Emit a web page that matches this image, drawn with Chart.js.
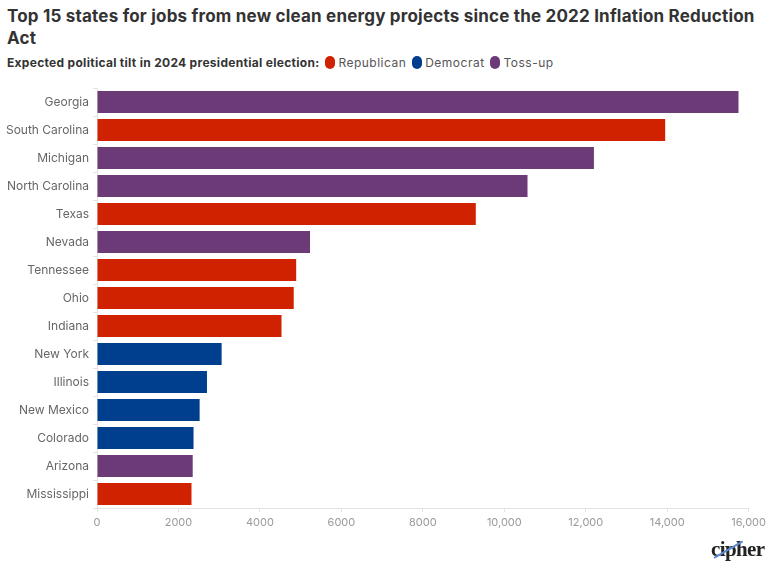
<!DOCTYPE html>
<html>
<head>
<meta charset="utf-8">
<script src="https://cdn.jsdelivr.net/npm/chart.js@4"></script>
<style>
  html, body { margin: 0; padding: 0; background: #fff; }
  #wrap { position: relative; width: 770px; height: 564px; overflow: hidden; font-family: Inter, "Open Sans", sans-serif; }
  #title { position: absolute; left: 7px; top: 5px; width: 763px; font-size: 17px; font-weight: 700; color: #333; line-height: 22px; white-space: nowrap; letter-spacing: 0.2px; }
  #legend { position: absolute; left: 7px; top: 55px; font-size: 12px; color: #555; white-space: nowrap; line-height: 16px; letter-spacing: 0.5px; }
  #legend b { color: #333; font-weight: 700; letter-spacing: 0.3px; }
  .sw { display: inline-block; width: 10px; height: 13px; border-radius: 5px; vertical-align: -2px; margin: 0 3px 0 2px; }
  #cv { position: absolute; left: 0; top: 0; }
  #logo { position: absolute; left: 711px; top: 537px; width: 58px; height: 27px; }
  #logo span { font-family: "Liberation Serif", "DejaVu Serif", serif; font-weight: 700; font-size: 21px; color: #222; letter-spacing: -0.6px; position: absolute; left: 0; top: 0; }
  #logo i { position: absolute; left: 3px; top: 20px; width: 33px; height: 1.5px; background: #5b8ad0; transform: rotate(-30deg); transform-origin: left center; }
</style>
</head>
<body>
<div id="wrap">
  <div id="title">Top 15 states for jobs from new clean energy projects since the 2022 Inflation Reduction<br>Act</div>
  <div id="legend"><b>Expected political tilt in 2024 presidential election:</b> <span class="sw" style="background:#d02200"></span>Republican <span class="sw" style="background:#003e8e"></span>Democrat <span class="sw" style="background:#6d3a78"></span>Toss-up</div>
  <canvas id="cv" width="770" height="564"></canvas>
  <div id="logo"><span>cipher</span><i></i></div>
</div>
<script>
const states = ["Georgia","South Carolina","Michigan","North Carolina","Texas","Nevada","Tennessee","Ohio","Indiana","New York","Illinois","New Mexico","Colorado","Arizona","Mississippi"];
const jobs = [15750, 13950, 12200, 10570, 9300, 5230, 4890, 4830, 4530, 3060, 2700, 2520, 2370, 2350, 2320];
const tilt = ["Toss-up","Republican","Toss-up","Toss-up","Republican","Toss-up","Republican","Republican","Republican","Democrat","Democrat","Democrat","Democrat","Toss-up","Republican"];
const tiltColors = { "Republican": "#d02200", "Democrat": "#003e8e", "Toss-up": "#6d3a78" };
const xTicks = [0, 2000, 4000, 6000, 8000, 10000, 12000, 14000, 16000];

new Chart(document.getElementById("cv"), {
  type: "bar",
  data: {
    labels: states,
    datasets: [{
      data: jobs,
      backgroundColor: tilt.map(t => tiltColors[t]),
      borderWidth: 0,
      categoryPercentage: 1,
      barPercentage: 0.786
    }]
  },
  options: {
    indexAxis: "y",
    responsive: false,
    animation: false,
    events: [],
    layout: { padding: { top: 88, right: 19, left: 0, bottom: 0 } },
    plugins: { legend: { display: false }, title: { display: false }, tooltip: { enabled: false } },
    scales: {
      x: {
        min: 0, max: 16000,
        afterBuildTicks: s => { s.ticks = xTicks.map(v => ({ value: v })); },
        afterFit: s => { s.height = 56; },
        grid: { drawOnChartArea: false, drawTicks: true, tickLength: 4, color: "#e3e3e3" },
        border: { display: true, color: "#e3e3e3" },
        ticks: {
          padding: 4,
          color: "#999",
          font: { family: "Inter", size: 11 },
          maxRotation: 0,
          callback: v => v >= 10000 ? v.toLocaleString("en-US") : String(v)
        }
      },
      y: {
        afterFit: s => { s.width = 97; },
        grid: { drawOnChartArea: false, drawTicks: true, tickLength: 4, color: "#e3e3e3" },
        border: { display: true, color: "#e3e3e3" },
        ticks: { padding: 4, color: "#666", font: { family: "Inter", size: 12 } }
      }
    }
  }
});
</script>
</body>
</html>
